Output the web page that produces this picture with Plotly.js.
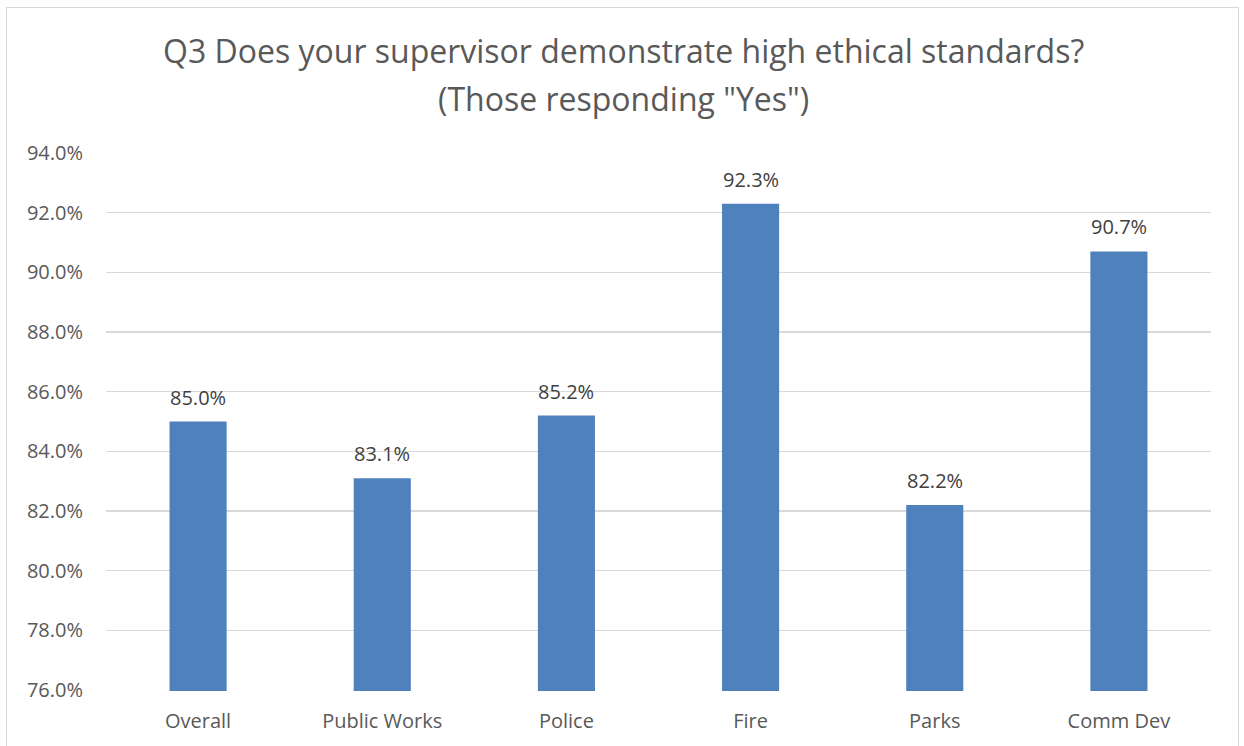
<!DOCTYPE html>
<html>
<head>
<meta charset="utf-8">
<script src="https://cdn.plot.ly/plotly-3.0.1.min.js"></script>
<style>
  html, body { margin: 0; padding: 0; background: #ffffff; overflow: hidden; }
  #chart { position: absolute; left: 0; top: 0; width: 1244px; height: 746px; }
  #frame { position: absolute; left: 6px; top: 7px; width: 1233px; height: 770px;
           border: 1.5px solid #d9d9d9; pointer-events: none; box-sizing: border-box; }
</style>
</head>
<body>
<div id="chart"></div>
<div id="frame"></div>
<script>
// Share of employees answering "Yes", by department
const departments = ["Overall", "Public Works", "Police", "Fire", "Parks", "Comm Dev"];
const yesPercent = [85.0, 83.1, 85.2, 92.3, 82.2, 90.7];
const yTicks = [76, 78, 80, 82, 84, 86, 88, 90, 92, 94];
const titleLines = ["Q3 Does your supervisor demonstrate high ethical standards?",
                    "(Those responding \"Yes\")"];

const FONT = "'Open Sans', 'Noto Sans', sans-serif";

const trace = {
  type: "bar",
  x: departments,
  y: yesPercent,
  marker: { color: "#4f81bd" },
  hoverinfo: "skip"
};

// value labels above each bar
const labels = departments.map((d, i) => ({
  x: d,
  y: yesPercent[i],
  text: yesPercent[i].toFixed(1) + "%",
  showarrow: false,
  yanchor: "bottom",
  yshift: 9,
  font: { family: FONT, size: 20, color: "#404040" }
}));

// two-line chart heading
const heading = titleLines.map((t, i) => ({
  xref: "paper",
  yref: "paper",
  x: 0.468,
  y: i === 0 ? 1.189 : 1.100,
  xanchor: "center",
  yanchor: "middle",
  text: t,
  showarrow: false,
  font: { family: FONT, size: 32, color: "#595959" }
}));

const layout = {
  width: 1244,
  height: 746,
  margin: { l: 106, r: 33, t: 152, b: 55 },
  paper_bgcolor: "#ffffff",
  plot_bgcolor: "#ffffff",
  showlegend: false,
  bargap: 0.69,
  xaxis: {
    type: "category",
    showgrid: false,
    showline: false,
    zeroline: false,
    ticks: "",
    ticklabelstandoff: 16,
    tickfont: { family: FONT, size: 20, color: "#595959" }
  },
  yaxis: {
    range: [75.97, 94.03],
    tickvals: yTicks,
    ticktext: yTicks.map(v => v.toFixed(1) + "%"),
    showgrid: true,
    gridcolor: "#d9d9d9",
    gridwidth: 1.3,
    zeroline: false,
    showline: false,
    ticks: "",
    ticklabelstandoff: 22,
    tickfont: { family: FONT, size: 20, color: "#595959" }
  },
  annotations: heading.concat(labels)
};

Plotly.newPlot("chart", [trace], layout, { displayModeBar: false, staticPlot: true });
</script>
</body>
</html>
